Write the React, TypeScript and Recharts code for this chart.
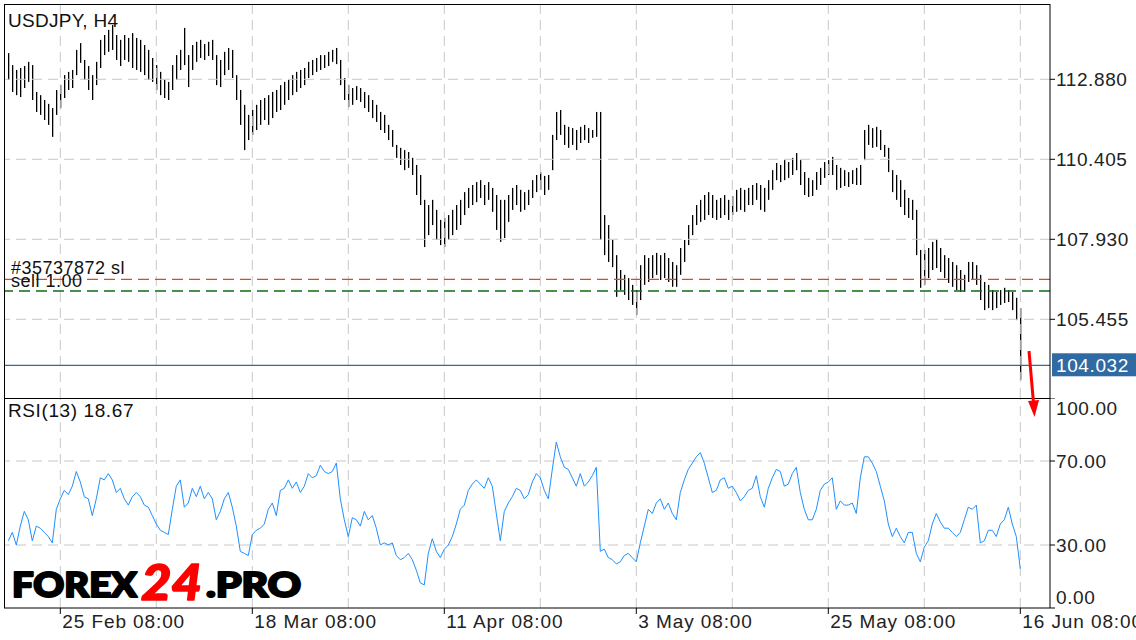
import React from "react";
import { ComposedChart, Bar, Line, XAxis, YAxis, ReferenceLine } from "recharts";

const FONT = "'Liberation Sans', Arial, sans-serif";

// USDJPY H4, one entry per pair of 4h bars (high / low of the pair)
const highs = [
  113.69, 113.32, 113.17, 113.23, 113.29, 113.42, 113.32, 112.49, 112.39, 112.24,
  112.12, 111.99, 112.55, 112.70, 113.01, 113.11, 113.17, 113.79, 114.00, 113.48,
  113.29, 113.01, 113.42, 114.10, 114.25, 114.41, 114.56, 114.25, 114.10, 114.25,
  114.16, 114.31, 114.16, 114.10, 113.94, 113.79, 113.54, 113.32, 113.11, 112.86,
  112.80, 113.32, 113.63, 113.79, 114.47, 113.63, 113.94, 114.04, 114.10, 113.97,
  114.04, 114.10, 113.63, 113.48, 113.73, 113.85, 113.79, 113.01, 112.55, 112.09,
  111.78, 111.93, 112.09, 112.24, 112.30, 112.39, 112.49, 112.55, 112.70, 112.80,
  112.86, 113.01, 113.11, 113.17, 113.23, 113.42, 113.48, 113.54, 113.63, 113.63,
  113.73, 113.79, 113.85, 113.48, 112.92, 112.70, 112.61, 112.67, 112.61, 112.49,
  112.39, 112.24, 112.09, 111.87, 111.78, 111.47, 111.31, 110.85, 110.76, 110.69,
  110.63, 110.45, 110.23, 109.92, 109.15, 108.99, 109.15, 108.84, 108.53, 108.59,
  108.68, 108.84, 108.99, 109.15, 109.39, 109.52, 109.61, 109.70, 109.76, 109.61,
  109.70, 109.52, 109.30, 109.15, 109.15, 109.30, 109.52, 109.61, 109.46, 109.39,
  109.46, 109.76, 109.92, 110.01, 109.89, 109.92, 111.16, 111.87, 111.93, 111.47,
  111.41, 111.37, 111.31, 111.41, 111.47, 111.37, 111.31, 111.87, 111.87, 108.68,
  108.37, 107.91, 107.44, 106.98, 106.83, 106.73, 106.52, 106.36, 107.13, 107.44,
  107.35, 107.44, 107.51, 107.44, 107.51, 107.35, 107.23, 107.13, 107.66, 107.91,
  108.37, 108.68, 108.99, 109.15, 109.30, 109.39, 109.30, 109.15, 109.21, 109.30,
  109.15, 109.27, 109.46, 109.52, 109.46, 109.52, 109.61, 109.67, 109.61, 109.52,
  109.76, 110.07, 110.29, 110.23, 110.38, 110.32, 110.45, 110.60, 110.38, 110.01,
  109.83, 109.76, 110.01, 110.14, 110.32, 110.38, 110.48, 110.23, 110.14, 110.07,
  110.01, 110.07, 110.14, 110.23, 111.31, 111.47, 111.37, 111.41, 111.31, 110.85,
  110.76, 110.07, 109.92, 109.76, 109.46, 109.21, 109.15, 108.84, 107.60, 107.60,
  107.66, 107.85, 107.91, 107.66, 107.44, 107.35, 107.23, 107.13, 106.98, 106.83,
  107.23, 107.23, 107.13, 106.83, 106.61, 106.52, 106.36, 106.30, 106.36, 106.43,
  106.36, 106.30, 106.12, 105.80,
];

const lows = [
  112.86, 112.49, 112.39, 112.33, 112.61, 112.80, 112.24, 111.87, 111.78, 111.62,
  111.47, 111.10, 111.78, 111.99, 112.30, 112.55, 112.61, 113.01, 113.39, 112.86,
  112.55, 112.24, 112.70, 113.23, 113.63, 113.73, 113.79, 113.48, 113.29, 113.48,
  113.42, 113.23, 113.17, 113.11, 113.01, 112.86, 112.80, 112.55, 112.39, 112.30,
  112.24, 112.55, 112.86, 113.17, 113.32, 112.64, 113.17, 113.42, 113.54, 113.48,
  113.60, 113.48, 112.70, 112.64, 113.01, 113.17, 112.92, 112.24, 111.47, 110.69,
  111.00, 111.16, 111.31, 111.47, 111.62, 111.47, 111.68, 111.87, 111.93, 112.09,
  112.24, 112.39, 112.49, 112.61, 112.70, 112.92, 113.01, 113.11, 113.17, 113.23,
  113.29, 113.42, 113.35, 112.70, 112.24, 112.02, 112.09, 112.24, 112.18, 111.99,
  111.87, 111.68, 111.56, 111.31, 111.22, 111.00, 110.79, 110.45, 110.23, 110.07,
  110.14, 109.92, 109.30, 108.99, 107.69, 108.06, 108.37, 107.91, 107.75, 107.69,
  107.91, 108.06, 108.22, 108.37, 108.68, 108.90, 108.99, 109.08, 109.21, 108.99,
  109.15, 108.78, 108.22, 107.85, 107.97, 108.47, 108.84, 108.99, 108.78, 108.84,
  108.99, 109.21, 109.39, 109.46, 109.30, 109.46, 110.07, 111.00, 111.16, 110.85,
  110.76, 110.85, 110.69, 110.91, 111.00, 110.91, 111.07, 111.10, 107.91, 107.44,
  107.23, 107.07, 106.15, 106.36, 106.21, 106.05, 105.90, 105.59, 106.05, 106.52,
  106.61, 106.73, 106.83, 106.67, 106.73, 106.61, 106.46, 106.46, 106.83, 107.23,
  107.75, 108.06, 108.37, 108.47, 108.53, 108.68, 108.59, 108.53, 108.59, 108.68,
  108.53, 108.68, 108.78, 108.84, 108.78, 108.99, 108.99, 109.15, 108.84, 108.78,
  109.15, 109.46, 109.76, 109.70, 109.76, 109.83, 109.92, 110.07, 109.61, 109.30,
  109.24, 109.27, 109.46, 109.61, 109.83, 109.92, 109.92, 109.46, 109.52, 109.58,
  109.55, 109.64, 109.61, 109.61, 110.38, 110.85, 110.76, 110.79, 110.69, 110.48,
  110.01, 109.39, 109.15, 108.93, 108.68, 108.59, 108.53, 107.44, 106.43, 106.52,
  106.73, 106.98, 107.04, 106.92, 106.73, 106.58, 106.46, 106.36, 106.30, 106.30,
  106.61, 106.67, 106.52, 106.05, 105.74, 105.80, 105.74, 105.80, 105.90, 105.96,
  105.99, 105.74, 105.43, 103.58,
];

const rsi = [
  32, 36, 30, 39, 46, 42, 32, 39, 38, 36,
  34, 31, 47, 52, 56, 54, 58, 65, 60, 53,
  52, 44, 52, 62, 61, 64, 61, 55, 57, 52,
  49, 53, 55, 53, 49, 48, 44, 40, 37, 36,
  35, 47, 58, 61, 48, 50, 57, 53, 58, 52,
  55, 52, 42, 46, 52, 55, 48, 39, 27, 26,
  25, 35, 37, 38, 40, 47, 50, 44, 56, 57,
  61, 57, 60, 55, 58, 64, 62, 63, 68, 65,
  64, 65, 69, 52, 42, 34, 43, 42, 39, 46,
  42, 44, 38, 30, 31, 30, 31, 25, 23, 24,
  26, 23, 18, 12, 11, 26, 33, 27, 24, 28,
  30, 34, 40, 47, 49, 56, 59, 61, 59, 57,
  62, 58, 45, 32, 46, 50, 53, 57, 56, 52,
  54, 60, 64, 62, 56, 52, 66, 79, 72, 67,
  66, 62, 58, 64, 58, 60, 63, 67, 27, 28,
  24, 23, 21, 22, 25, 26, 24, 22, 31, 39,
  47, 45, 50, 52, 47, 50, 45, 42, 55, 61,
  66, 69, 72, 74, 69, 62, 55, 56, 61, 62,
  57, 58, 55, 51, 53, 56, 57, 63, 53, 48,
  57, 62, 66, 65, 58, 59, 64, 67, 55, 47,
  42, 42, 47, 56, 59, 60, 62, 47, 51, 49,
  49, 50, 45, 62, 72, 72, 69, 65, 58, 51,
  40, 34, 38, 34, 31, 36, 36, 26, 22, 29,
  32, 40, 45, 41, 38, 38, 36, 34, 36, 42,
  48, 47, 49, 31, 32, 37, 37, 34, 40, 42,
  48, 40, 34, 18.67,
];

// bar numbers (4h bars counted from the left edge) where the time labels sit
const timeTicks = [27, 123, 219, 315, 411, 507];
const timeLabels = ["25 Feb 08:00", "18 Mar 08:00", "11 Apr 08:00", "3 May 08:00", "25 May 08:00", "16 Jun 08:00"];
const gridBars = [27, 75, 123, 171, 219, 267, 315, 363, 411, 459, 507];
const barDomain = [-1.15, 521.85];

const priceTicks = [105.455, 107.93, 110.405, 112.88];
const priceDomain = [103.02, 115.21];
const rsiTicks = [0, 30, 70, 100];
const rsiGrid = [30, 70];

const lastPrice = 104.032;
const slPrice = 106.69;
const openPrice = 106.33;
const lastRsi = 18.67;

const data = highs.map((h, k) => ({ bar: 2 * k + 1, range: [lows[k], h], rsi: rsi[k] }));

// plain high-low stick, 1px wide, snapped to the pixel grid
const HiLo = (p: any) => {
  const { x, y, width, height } = p;
  if (x == null || y == null) return null;
  const cx = Math.round(x + width / 2);
  const top = Math.min(y, y + height);
  return <rect x={cx} y={top} width={1.3} height={Math.max(Math.abs(height), 1)} fill="#000" />;
};

const PriceTick = ({ x, y, payload }: any) => (
  <text x={x} y={y} dy="0.36em" fontSize={19} fill="#222" fontFamily={FONT} letterSpacing={0.6}>
    {payload.value.toFixed(3)}
  </text>
);

const RsiTick = ({ x, y, payload }: any) => {
  const shift = payload.value === 100 ? 10 : payload.value === 0 ? -11 : 0;
  return (
    <text x={x} y={y + shift} dy="0.36em" fontSize={19} fill="#222" fontFamily={FONT} letterSpacing={0.6}>
      {payload.value.toFixed(2)}
    </text>
  );
};

const TimeTick = ({ x, y, payload }: any) => (
  <text x={x + 2} y={y} dy="0.71em" fontSize={19} fill="#222" fontFamily={FONT} letterSpacing={0.9}>
    {timeLabels[timeTicks.indexOf(payload.value)]}
  </text>
);

const TradeLabel = ({ viewBox, text, lift }: any) => (
  <text x={viewBox.x + 7} y={viewBox.y - lift} fontSize={18} fill="#111" fontFamily={FONT} letterSpacing={0.5}>
    {text}
  </text>
);

const PriceBadge = ({ viewBox }: any) => {
  const x = viewBox.x + viewBox.width + 2;
  return (
    <g>
      <rect x={x} y={viewBox.y - 12} width={84} height={23} fill="#2f6aa3" />
      <text x={x + 4} y={viewBox.y} dy="0.36em" fontSize={19} fill="#fff" fontFamily={FONT} letterSpacing={0.6}>
        {lastPrice.toFixed(3)}
      </text>
    </g>
  );
};

export default function App() {
  return (
    <div style={{ position: "absolute", left: 0, top: 0, width: 1136, height: 640, overflow: "hidden", background: "#fff" }}>
      <div style={{ position: "absolute", left: 0, top: 0 }}>
        <ComposedChart width={1136} height={398} data={data} margin={{ top: 4, right: 0, bottom: 0, left: 4 }}>
          <XAxis dataKey="bar" type="number" domain={barDomain} allowDataOverflow hide />
          <YAxis
            orientation="right"
            width={86}
            domain={priceDomain}
            ticks={priceTicks}
            interval={0}
            allowDataOverflow
            tickSize={5}
            tickMargin={1}
            tick={PriceTick}
            tickLine={{ stroke: "#000" }}
            axisLine={{ stroke: "#000" }}
          />
          {gridBars.map((b) => (
            <ReferenceLine key={"v" + b} x={b} stroke="#c8c8c8" strokeDasharray="10 6" />
          ))}
          {priceTicks.map((p) => (
            <ReferenceLine key={"h" + p} y={p} stroke="#c8c8c8" strokeDasharray="10 6" />
          ))}
          <ReferenceLine y={slPrice} stroke="#e8480c" strokeWidth={1.3} strokeDasharray="11 6" label={<TradeLabel text="#35737872 sl" lift={5} />} />
          <ReferenceLine y={openPrice} stroke="#0c6e0c" strokeWidth={1.3} strokeDasharray="11 6" label={<TradeLabel text="sell 1.00" lift={4} />} />
          <ReferenceLine y={lastPrice} stroke="#2f6aa3" strokeWidth={1.2} label={<PriceBadge />} />
          <Bar dataKey="range" barSize={2} shape={HiLo} isAnimationActive={false} />
        </ComposedChart>
      </div>
      <div style={{ position: "absolute", left: 0, top: 398 }}>
        <ComposedChart width={1136} height={242} data={data} margin={{ top: 0, right: 0, bottom: 0, left: 4 }}>
          <XAxis
            dataKey="bar"
            type="number"
            domain={barDomain}
            allowDataOverflow
            ticks={timeTicks}
            interval={0}
            height={32}
            tickSize={6}
            tickMargin={1}
            tick={TimeTick}
            tickLine={{ stroke: "#000" }}
            axisLine={{ stroke: "#000" }}
          />
          <YAxis
            orientation="right"
            width={86}
            domain={[0, 100]}
            ticks={rsiTicks}
            interval={0}
            allowDataOverflow
            tickSize={5}
            tickMargin={1}
            tick={RsiTick}
            tickLine={{ stroke: "#000" }}
            axisLine={{ stroke: "#000" }}
          />
          {gridBars.map((b) => (
            <ReferenceLine key={"v" + b} x={b} stroke="#c8c8c8" strokeDasharray="10 6" />
          ))}
          {rsiGrid.map((r) => (
            <ReferenceLine key={"r" + r} y={r} stroke="#c8c8c8" strokeDasharray="10 6" />
          ))}
          <Line dataKey="rsi" type="linear" stroke="#1e90ff" strokeWidth={1} dot={false} isAnimationActive={false} />
        </ComposedChart>
      </div>
      <svg width={1136} height={640} style={{ position: "absolute", left: 0, top: 0, pointerEvents: "none" }}>
        <line x1={4} y1={4.5} x2={1050} y2={4.5} stroke="#000" />
        <line x1={4.5} y1={4} x2={4.5} y2={608} stroke="#000" />
        <line x1={4} y1={398.5} x2={1050} y2={398.5} stroke="#000" />
        <text x={8} y={27} fontSize={19} fill="#111" fontFamily={FONT} letterSpacing={0.3}>USDJPY, H4</text>
        <text x={8} y={417} fontSize={19} fill="#111" fontFamily={FONT} letterSpacing={0.6}>
          {"RSI(13) " + lastRsi.toFixed(2)}
        </text>
        <line x1={1029} y1={351} x2={1033.5} y2={403} stroke="#ff0000" strokeWidth={3} />
        <polygon points="1028,401 1039,400 1034.5,417" fill="#ff0000" />
        <g fontFamily="Lato, Roboto, 'Liberation Sans', sans-serif" fontWeight={900} strokeLinejoin="round">
          <text x={12} y={597} fontSize={35} fill="#000" stroke="#000" strokeWidth={2.2} textLength={125} lengthAdjust="spacingAndGlyphs">FOREX</text>
          <text x={141} y={600} fontSize={50} fill="#ff0000" stroke="#ff0000" strokeWidth={1.6} fontStyle="italic" textLength={61} lengthAdjust="spacingAndGlyphs">24</text>
          <text x={206} y={597} fontSize={35} fill="#000" stroke="#000" strokeWidth={2.2} textLength={95} lengthAdjust="spacingAndGlyphs">.PRO</text>
        </g>
      </svg>
    </div>
  );
}
